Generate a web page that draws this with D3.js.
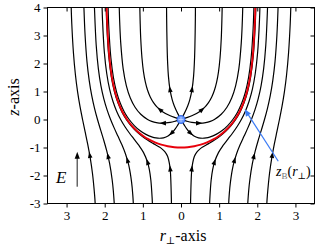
<!DOCTYPE html>
<html>
<head>
<meta charset="utf-8">
<script src="https://cdn.jsdelivr.net/npm/d3@7"></script>
<style>
body { margin: 0; background: #fff; }
svg { display: block; }
text { font-family: "Liberation Serif", "DejaVu Serif", serif; }
</style>
</head>
<body>
<svg id="chart" width="316" height="250" font-family="Liberation Serif, serif"></svg>
<script>
// field lines, right half only [r, z]; the left half is the mirror image
// lines coming up from the bottom and passing outside the boundary
const lineA = [[0.25,-3],[0.274,-1.949],[0.293,-1.663],[0.352,-1.313],[0.420,-1.153],[0.493,-1.057],[0.569,-0.985],
  [0.724,-0.862],[0.878,-0.736],[1.027,-0.593],[1.171,-0.426],[1.307,-0.230],[1.434,0],[1.550,0.273],[1.655,0.602],
  [1.748,1.009],[1.828,1.534],[1.894,2.257],[1.946,3.371],[1.967,4.218]];
const lineB = [[0.75,-3],[0.756,-2.820],[0.790,-2.169],[0.831,-1.782],[0.878,-1.521],[0.985,-1.174],[1.103,-0.926],
  [1.226,-0.708],[1.349,-0.491],[1.468,-0.259],[1.582,0],[1.688,0.298],[1.785,0.650],[1.872,1.081],[1.946,1.633],
  [2.009,2.394],[2.058,3.564],[2.070,4.063]];
const lineC = [[1.25,-3],[1.263,-2.710],[1.295,-2.243],[1.370,-1.633],[1.457,-1.223],[1.552,-0.896],[1.651,-0.601],
  [1.750,-0.308],[1.846,0],[1.938,0.342],[2.023,0.736],[2.100,1.212],[2.167,1.818],[2.223,2.649],[2.267,3.927],[2.271,4.097]];
const lineD = [[1.75,-3],[1.775,-2.535],[1.805,-2.151],[1.872,-1.571],[1.947,-1.124],[2.026,-0.738],[2.108,-0.372],
  [2.189,0],[2.267,0.400],[2.340,0.852],[2.406,1.389],[2.465,2.068],[2.514,2.997],[2.547,4.076]];
const lineE = [[2.25,-3],[2.265,-2.700],[2.319,-1.946],[2.380,-1.374],[2.445,-0.890],[2.513,-0.443],[2.581,0],
  [2.648,0.467],[2.711,0.987],[2.768,1.598],[2.819,2.366],[2.863,3.412],[2.881,4.115]];

// lines leaving the point at the origin
const src1 = [[0,0],[0.081,0.201],[0.139,0.363],[0.178,0.489],[0.233,0.717],[0.290,1.082],[0.330,1.550],
  [0.349,1.980],[0.364,2.593],[0.376,3.576],[0.380,4.347]];
const src2 = [[0,0],[0.283,0.132],[0.484,0.280],[0.618,0.433],[0.721,0.605],[0.806,0.806],[0.876,1.044],
  [0.934,1.334],[0.983,1.703],[1.023,2.195],[1.056,2.900],[1.071,3.503],[1.080,4.031]];
const src3 = [[0,0],[0.127,-0.051],[0.285,-0.104],[0.498,-0.133],[0.647,-0.114],[0.769,-0.067],[0.875,0],
  [1.055,0.186],[1.204,0.438],[1.329,0.767],[1.432,1.202],[1.516,1.806],[1.580,2.737],[1.606,3.443],[1.619,4.006]];
const src4 = [[0,0],[0.082,-0.194],[0.188,-0.402],[0.340,-0.589],[0.458,-0.654],[0.562,-0.670],[0.658,-0.658],
  [0.750,-0.629],[0.921,-0.532],[1.079,-0.393],[1.225,-0.216],[1.359,0],[1.482,0.261],[1.591,0.579],
  [1.688,0.974],[1.770,1.485],[1.838,2.191],[1.892,3.277],[1.913,4.103]];

// boundary z_B(r), right half
const boundary = [[0,-1],[0.174,-0.989],[0.347,-0.954],[0.518,-0.897],[0.684,-0.815],[0.845,-0.709],[1.0,-0.577],
  [1.147,-0.418],[1.286,-0.227],[1.414,0],[1.532,0.270],[1.638,0.596],[1.732,1.0],[1.813,1.521],[1.879,2.240],
  [1.932,3.346],[1.949,3.995],[1.955,4.3]];

const fieldLines = [lineA, lineB, lineC, lineD, lineE, src1, src2, src3, src4];
// where the arrowhead sits on each line [r, z]
const arrowAt = [[0.285,-1.75],[0.88,-1.52],[1.40,-1.45],[1.9,-1.3],[2.39,-1.27],
  [0.29,1.08],[0.55,0.35],[0.48,-0.12],[0.25,-0.49]];

const xTicks = [-3,-2,-1,0,1,2,3];
const xTickLabels = ["3","2","1","0","1","2","3"];
const yTicks = [-3,-2,-1,0,1,2,3,4];

const W = 316, H = 250;
const serif = '"Liberation Serif", "DejaVu Serif", serif';
const svg = d3.select('#chart');

const x = d3.scaleLinear().domain([-3.5, 3.5]).range([47.5, 314.5]);
const y = d3.scaleLinear().domain([-3, 4]).range([203.5, 7.5]);

svg.append('defs').append('clipPath').attr('id', 'plotclip')
  .append('rect').attr('x', 47.5).attr('y', 7.5).attr('width', 267).attr('height', 196);

const plot = svg.append('g').attr('clip-path', 'url(#plotclip)');

function lineFor(s) {
  return d3.line()
    .x(d => x(s * d[0]))
    .y(d => y(d[1]))
    .curve(d3.curveCatmullRom);
}

function arrowOn(node, px, py) {
  const L = node.getTotalLength();
  let best = 0, bd = 1e9;
  for (let l = 0; l <= L; l += 0.5) {
    const p = node.getPointAtLength(l);
    const d = (p.x - px) * (p.x - px) + (p.y - py) * (p.y - py);
    if (d < bd) { bd = d; best = l; }
  }
  const p0 = node.getPointAtLength(Math.max(0, best - 1.5));
  const p1 = node.getPointAtLength(Math.min(L, best + 1.5));
  const c = node.getPointAtLength(best);
  const ang = Math.atan2(p1.y - p0.y, p1.x - p0.x) * 180 / Math.PI;
  svg.append('path')
    .attr('d', 'M3.2,0 L-3,-2.3 L-3,2.3 Z')
    .attr('fill', '#000')
    .attr('transform', `translate(${c.x},${c.y}) rotate(${ang})`);
}

[1, -1].forEach(s => {
  fieldLines.forEach((pts, i) => {
    const p = plot.append('path')
      .datum(pts)
      .attr('fill', 'none')
      .attr('stroke', '#000')
      .attr('stroke-width', 1.2)
      .attr('d', lineFor(s));
    arrowOn(p.node(), x(s * arrowAt[i][0]), y(arrowAt[i][1]));
  });
});

// red boundary, both halves in one path
const fullBoundary = boundary.slice().reverse().map(d => [-d[0], d[1]]).concat(boundary.slice(1));
plot.append('path')
  .datum(fullBoundary)
  .attr('fill', 'none')
  .attr('stroke', '#e8000b')
  .attr('stroke-width', 1.9)
  .attr('d', lineFor(1));

// point at the origin
svg.append('circle')
  .attr('cx', x(0)).attr('cy', y(0)).attr('r', 4)
  .attr('fill', '#6e9cff').attr('stroke', '#2f66e8').attr('stroke-width', 1);
svg.append('path')
  .attr('d', `M${x(0) - 2.5},${y(0)} h5 M${x(0)},${y(0) - 2.5} v5`)
  .attr('stroke', '#c8d9ff').attr('stroke-width', 0.8);

// axes
const fontSize = 13;
const gx = svg.append('g').attr('transform', `translate(0,${y(-3)})`)
  .call(d3.axisBottom(x).tickValues(xTicks).tickFormat((d, i) => xTickLabels[i]).tickSizeInner(4).tickSizeOuter(0).tickPadding(3));
const gxt = svg.append('g').attr('transform', `translate(0,${y(4)})`)
  .call(d3.axisTop(x).tickValues(xTicks).tickFormat('').tickSizeInner(-4).tickSizeOuter(0));
const gy = svg.append('g').attr('transform', `translate(${x(-3.5)},0)`)
  .call(d3.axisLeft(y).tickValues(yTicks).tickFormat(d => String(d)).tickSizeInner(4).tickSizeOuter(0).tickPadding(3));
const gyr = svg.append('g').attr('transform', `translate(${x(3.5)},0)`)
  .call(d3.axisRight(y).tickValues(yTicks).tickFormat('').tickSizeInner(-4).tickSizeOuter(0));

[gx, gxt, gy, gyr].forEach(g => {
  g.attr('font-family', serif).attr('font-size', fontSize);
  g.select('.domain').remove();
  g.selectAll('line').attr('stroke', '#000').attr('stroke-width', 1);
  g.selectAll('text')
    .attr('fill', '#000')
    .style('font-family', serif)
    .style('font-size', fontSize + 'px');
});

svg.append('rect')
  .attr('x', x(-3.5)).attr('y', y(4))
  .attr('width', x(3.5) - x(-3.5)).attr('height', y(-3) - y(4))
  .attr('fill', 'none').attr('stroke', '#000').attr('stroke-width', 1);

// axis titles
const xt = svg.append('text').attr('x', x(0) + 2).attr('y', 241)
  .attr('text-anchor', 'middle').style('font-size', '16px');
xt.append('tspan').style('font-style', 'italic').text('r');
xt.append('tspan').attr('dy', 3).style('font-size', '10px').text('⊥');
xt.append('tspan').attr('dy', -3).text('-axis');

const yt = svg.append('text')
  .attr('transform', `translate(19,97) rotate(-90)`)
  .attr('text-anchor', 'middle').style('font-size', '16px');
yt.append('tspan').style('font-style', 'italic').text('z');
yt.append('tspan').text('-axis');

// field direction
svg.append('text').attr('x', 56).attr('y', 183)
  .style('font-size', '17px').style('font-style', 'italic').text('E');
svg.append('line')
  .attr('x1', x(-2.72)).attr('x2', x(-2.72))
  .attr('y1', y(-2.4)).attr('y2', y(-1.35))
  .attr('stroke', '#666').attr('stroke-width', 1.5);
svg.append('path')
  .attr('d', `M${x(-2.72)},${y(-1.15)} l-2.6,7 l5.2,0 Z`)
  .attr('fill', '#000');

// boundary label with pointer
const blue = '#3b7bf5';
const tipX = x(1.67), tipY = y(0.37);
const tailX = x(2.55), tailY = y(-1.49);
const ang = Math.atan2(tipY - tailY, tipX - tailX);
svg.append('line')
  .attr('x1', tailX).attr('y1', tailY)
  .attr('x2', tipX - 5 * Math.cos(ang)).attr('y2', tipY - 5 * Math.sin(ang))
  .attr('stroke', blue).attr('stroke-width', 1.2);
svg.append('path')
  .attr('d', 'M0,0 L-7,-3 L-7,3 Z')
  .attr('fill', blue)
  .attr('transform', `translate(${tipX},${tipY}) rotate(${ang * 180 / Math.PI})`);

const lab = svg.append('text').attr('x', 276).attr('y', 176).style('font-size', '14px');
lab.append('tspan').style('font-style', 'italic').text('z');
lab.append('tspan').attr('dy', 3).style('font-size', '9px').attr('fill', '#777').text('B');
lab.append('tspan').attr('dy', -3).text('(');
lab.append('tspan').style('font-style', 'italic').text('r');
lab.append('tspan').attr('dy', 3).style('font-size', '9px').text('⊥');
lab.append('tspan').attr('dy', -3).text(')');
</script>
</body>
</html>
